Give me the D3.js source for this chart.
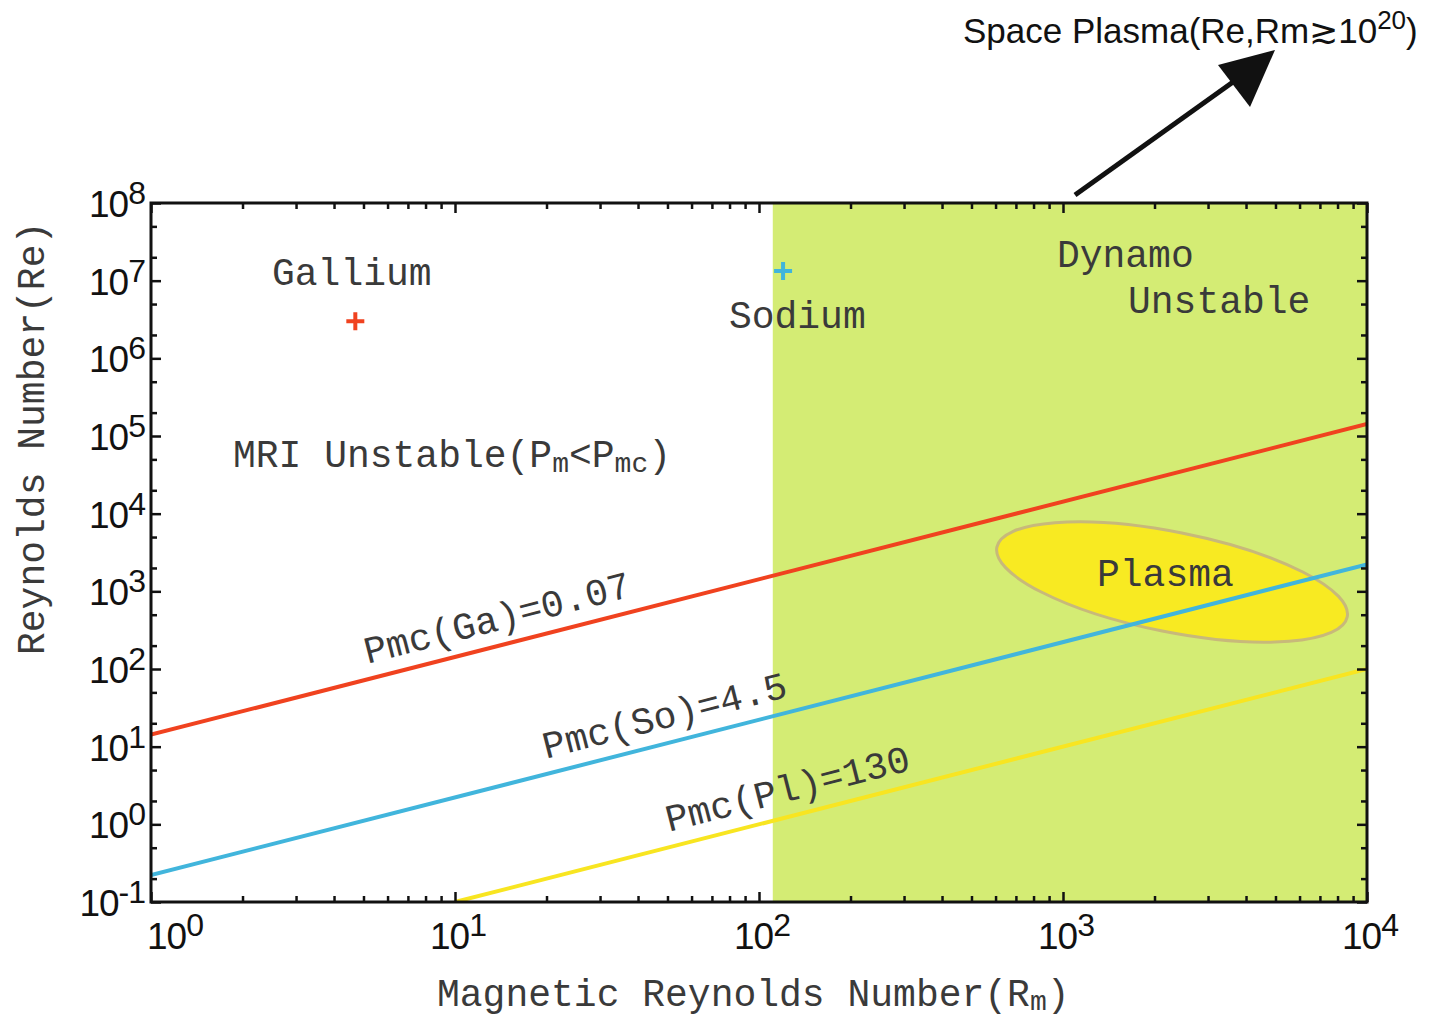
<!DOCTYPE html>
<html>
<head>
<meta charset="utf-8">
<script src="https://cdn.jsdelivr.net/npm/d3@7"></script>
<style>
  html, body { margin: 0; padding: 0; background: #ffffff; }
</style>
</head>
<body>
<script>
/**
 * MRI / dynamo stability diagram
 */

// Data
const RM_DOMAIN   = [1, 1e4];
const RE_DOMAIN   = [0.1, 1e8];
const X_MAJOR     = [1, 10, 100, 1000, 10000];
const X_EXP       = ['0', '1', '2', '3', '4'];
const Y_MAJOR     = [0.1, 1, 10, 100, 1e3, 1e4, 1e5, 1e6, 1e7, 1e8];
const Y_EXP       = ['-1', '0', '1', '2', '3', '4', '5', '6', '7', '8'];
const DYNAMO_RM   = 111;            // Rm where the dynamo region begins

// critical magnetic Prandtl lines: Re = Rm / Pmc
const PMC_NAMES   = ['Ga', 'So', 'Pl'];
const PMC_VALUES  = [0.07, 4.5, 100];
const PMC_LABELS  = ['Pmc(Ga)=0.07', 'Pmc(So)=4.5', 'Pmc(Pl)=130'];
const PMC_LABEL_RM = [5.3, 20.5, 52];

// experiments
const EXP_NAMES   = ['Gallium', 'Sodium'];
const EXP_RM      = [4.7, 120];
const EXP_RE      = [3.0e6, 1.33e7];

// plasma region: ends of the long axis, width ratio
const PLASMA_RM   = [606, 8610];
const PLASMA_RE   = [3707, 469];
const PLASMA_RATIO = 0.28;

// Colors
const BG     = '#ffffff';
const FG     = '#111111';
const TXT    = '#3a3a3a';
const GREEN  = '#d4ec74';
const RED    = '#f0421f';
const BLUE   = '#41b5dc';
const YELLOW = '#f8e521';
const PLASMA_FILL   = '#f8ea22';
const PLASMA_STROKE = '#c8b97a';
const LINE_COLORS = [RED, BLUE, YELLOW];

const MONO = "'Courier New', 'Liberation Mono', monospace";
const SANS = "'Liberation Sans', Arial, Helvetica, sans-serif";

// Dimensions
const W = 1430, H = 1019;
const plot = { left: 151, right: 1367, top: 203, bottom: 902 };

// SCALES
const x = d3.scaleLog().domain(RM_DOMAIN).range([plot.left, plot.right]);
const y = d3.scaleLog().domain(RE_DOMAIN).range([plot.bottom, plot.top]);

const svg = d3.select('body').append('svg')
  .attr('width', W)
  .attr('height', H);

svg.append('rect')
  .attr('width', W).attr('height', H)
  .attr('fill', BG);

const defs = svg.append('defs');
defs.append('clipPath').attr('id', 'clip')
  .append('rect')
  .attr('x', plot.left).attr('y', plot.top)
  .attr('width', plot.right - plot.left)
  .attr('height', plot.bottom - plot.top);

const body = svg.append('g').attr('clip-path', 'url(#clip)');

// dynamo unstable region
body.append('rect')
  .attr('x', x(DYNAMO_RM))
  .attr('y', y(RE_DOMAIN[1]))
  .attr('width', x(RM_DOMAIN[1]) - x(DYNAMO_RM))
  .attr('height', y(RE_DOMAIN[0]) - y(RE_DOMAIN[1]))
  .attr('fill', GREEN);

// plasma ellipse
{
  const x1 = x(PLASMA_RM[0]), y1 = y(PLASMA_RE[0]);
  const x2 = x(PLASMA_RM[1]), y2 = y(PLASMA_RE[1]);
  const a = Math.hypot(x2 - x1, y2 - y1) / 2;
  const ang = Math.atan2(y2 - y1, x2 - x1) * 180 / Math.PI;
  body.append('ellipse')
    .attr('transform', `translate(${(x1 + x2) / 2},${(y1 + y2) / 2}) rotate(${ang})`)
    .attr('rx', a)
    .attr('ry', a * PLASMA_RATIO)
    .attr('fill', PLASMA_FILL)
    .attr('stroke', PLASMA_STROKE)
    .attr('stroke-width', 3);
}

// Pmc lines
const line = d3.line().x(d => x(d[0])).y(d => y(d[1]));
PMC_VALUES.forEach((pm, i) => {
  const rm0 = Math.max(RM_DOMAIN[0], RE_DOMAIN[0] * pm);
  body.append('path')
    .datum([[rm0, rm0 / pm], [RM_DOMAIN[1], RM_DOMAIN[1] / pm]])
    .attr('d', line)
    .attr('fill', 'none')
    .attr('stroke', LINE_COLORS[i])
    .attr('stroke-width', 4);
});

// experiment crosses
const crossColors = [RED, BLUE];
EXP_NAMES.forEach((n, i) => {
  const cx = x(EXP_RM[i]), cy = y(EXP_RE[i]), s = 9;
  body.append('path')
    .attr('d', `M${cx - s},${cy}H${cx + s}M${cx},${cy - s}V${cy + s}`)
    .attr('stroke', crossColors[i])
    .attr('stroke-width', 4);
});

// Pmc labels along lines
const slope = Math.atan2(y(10) - y(1), x(10) - x(1)) * 180 / Math.PI;
PMC_LABELS.forEach((lab, i) => {
  const rm = PMC_LABEL_RM[i];
  const px = x(rm), py = y(rm / PMC_VALUES[i]);
  svg.append('text')
    .attr('transform', `translate(${px},${py}) rotate(${slope}) translate(0,-15)`)
    .attr('font-family', MONO)
    .attr('font-size', 38)
    .attr('fill', TXT)
    .text(lab);
});

// region labels
const notes = [
  { t: 'Gallium',  rm: 2.5,  re: 8.8e6 },
  { t: 'Sodium',   rm: 79.6, re: 2.45e6 },
  { t: 'Dynamo',   rm: 955,  re: 1.5e7 },
  { t: 'Unstable', rm: 1636, re: 3.83e6 },
  { t: 'Plasma',   rm: 1294, re: 1170 }
];
notes.forEach(n => {
  svg.append('text')
    .attr('x', x(n.rm)).attr('y', y(n.re))
    .attr('font-family', MONO)
    .attr('font-size', 38)
    .attr('fill', TXT)
    .text(n.t);
});

// MRI unstable label with subscripts
{
  const t = svg.append('text')
    .attr('x', x(1.86)).attr('y', y(4.0e4))
    .attr('font-family', MONO)
    .attr('font-size', 38)
    .attr('fill', TXT);
  t.append('tspan').text('MRI Unstable(P');
  t.append('tspan').attr('font-size', 28).attr('dy', 5).text('m');
  t.append('tspan').attr('dy', -5).text('<P');
  t.append('tspan').attr('font-size', 28).attr('dy', 5).text('mc');
  t.append('tspan').attr('dy', -5).text(')');
}

// Axes (ticks point inward)
const xMinor = [];
for (let d = 1; d < 1e4; d *= 10) for (let k = 2; k <= 9; k++) xMinor.push(d * k);
const yMinor = [];
for (let d = 0.1; d < 1e8; d *= 10) [2, 5].forEach(k => yMinor.push(d * k));

const tickAxis = (axisFn, scale, vals, size, tr) => {
  svg.append('g')
    .attr('transform', tr)
    .call(axisFn(scale).tickValues(vals).tickSize(size).tickFormat(''))
    .call(g => g.select('.domain').remove())
    .call(g => g.selectAll('line').attr('stroke', FG).attr('stroke-width', 2.5));
};
tickAxis(d3.axisBottom, x, X_MAJOR, -10, `translate(0,${plot.bottom})`);
tickAxis(d3.axisBottom, x, xMinor, -6, `translate(0,${plot.bottom})`);
tickAxis(d3.axisTop, x, X_MAJOR, -10, `translate(0,${plot.top})`);
tickAxis(d3.axisTop, x, xMinor, -6, `translate(0,${plot.top})`);
tickAxis(d3.axisLeft, y, Y_MAJOR, -10, `translate(${plot.left},0)`);
tickAxis(d3.axisLeft, y, yMinor, -6, `translate(${plot.left},0)`);
tickAxis(d3.axisRight, y, Y_MAJOR, -10, `translate(${plot.right},0)`);
tickAxis(d3.axisRight, y, yMinor, -6, `translate(${plot.right},0)`);

// frame
svg.append('rect')
  .attr('x', plot.left).attr('y', plot.top)
  .attr('width', plot.right - plot.left)
  .attr('height', plot.bottom - plot.top)
  .attr('fill', 'none')
  .attr('stroke', FG)
  .attr('stroke-width', 3);

// tick labels
X_MAJOR.forEach((v, i) => {
  const sx = Math.min(Math.max(x(v) - 25, 147), 1350);
  const t = svg.append('text')
    .attr('x', sx).attr('y', plot.bottom + 47)
    .attr('font-family', SANS)
    .attr('font-size', 37)
    .attr('letter-spacing', -1)
    .attr('fill', FG);
  t.append('tspan').text('10');
  t.append('tspan').attr('font-size', 32).attr('dy', -13).text(X_EXP[i]);
});
Y_MAJOR.forEach((v, i) => {
  const t = svg.append('text')
    .attr('x', plot.left - 6).attr('y', y(v) + 14)
    .attr('text-anchor', 'end')
    .attr('font-family', SANS)
    .attr('font-size', 37)
    .attr('letter-spacing', -1)
    .attr('fill', FG);
  t.append('tspan').text('10');
  t.append('tspan').attr('font-size', 32).attr('dy', -13).text(Y_EXP[i]);
});

// axis titles
{
  const t = svg.append('text')
    .attr('x', 437).attr('y', 1006)
    .attr('font-family', MONO)
    .attr('font-size', 38)
    .attr('fill', TXT);
  t.append('tspan').text('Magnetic Reynolds Number(R');
  t.append('tspan').attr('font-size', 28).attr('dy', 4).text('m');
  t.append('tspan').attr('dy', -4).text(')');
}
svg.append('text')
  .attr('transform', 'translate(44,655) rotate(-90)')
  .attr('font-family', MONO)
  .attr('font-size', 38)
  .attr('fill', TXT)
  .text('Reynolds Number(Re)');

// space plasma arrow
svg.append('line')
  .attr('x1', 1075).attr('y1', 195)
  .attr('x2', 1240).attr('y2', 77)
  .attr('stroke', FG)
  .attr('stroke-width', 5);
svg.append('path')
  .attr('d', 'M1275,50L1218,65L1250,107Z')
  .attr('fill', FG);

{
  const t = svg.append('text')
    .attr('x', 963).attr('y', 43)
    .attr('font-family', SANS)
    .attr('font-size', 35)
    .attr('fill', FG);
  t.append('tspan').text('Space Plasma(Re,Rm\u227310');
  t.append('tspan').attr('font-size', 26).attr('dy', -14).text('20');
  t.append('tspan').attr('dy', 14).text(')');
}
</script>
</body>
</html>
